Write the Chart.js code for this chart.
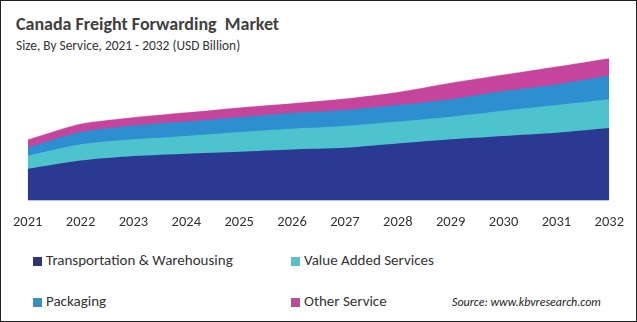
<!DOCTYPE html>
<html>
  <head>
    <title>Canada Freight Forwarding Market</title>
    <script src="https://cdn.jsdelivr.net/npm/chart.js"></script>
    <style>
      html, body {
        margin: 0;
        padding: 0;
        background: #fff;
        font-family: Calibri, Carlito, "Open Sans", Arial, sans-serif;
      }
      .frame {
        position: relative;
        width: 635px;
        height: 320px;
        border: 1px solid #222;
        overflow: hidden;
      }
      h1 {
        position: absolute;
        left: 15px;
        top: 12px;
        margin: 0;
        font-size: 18px;
        font-weight: bold;
        color: #404040;
      }
      .sub {
        position: absolute;
        left: 15px;
        top: 36px;
        font-size: 13.4px;
        color: #333;
      }
      .chart-box {
        position: absolute;
        left: -1px;
        top: 49px;
        width: 637px;
        height: 194px;
      }
      .legend-item {
        position: absolute;
        font-size: 15px;
        color: #333;
        white-space: nowrap;
      }
      .legend-item span {
        display: inline-block;
        width: 9px;
        height: 9px;
        margin-right: 4px;
        vertical-align: -1px;
      }
      .source {
        position: absolute;
        left: 451px;
        top: 294px;
        font-size: 12px;
        font-style: italic;
        color: #222;
      }
    </style>
  </head>
  <body>
    <div class="frame">
      <h1>Canada Freight Forwarding&nbsp; Market</h1>
      <div class="sub">Size, By Service, 2021 - 2032 (USD Billion)</div>
      <div class="chart-box"><canvas id="chart"></canvas></div>
      <div id="legend"></div>
      <div class="source">Source: www.kbvresearch.com</div>
    </div>
    <script>
      // market size by service, USD billion
      const years = ["2021", "2022", "2023", "2024", "2025", "2026", "2027", "2028", "2029", "2030", "2031", "2032"];
      const transportation = [3.23, 4.07, 4.53, 4.77, 4.97, 5.20, 5.37, 5.80, 6.23, 6.57, 6.90, 7.37];
      const valueAdded     = [1.34, 1.66, 1.70, 1.80, 2.00, 2.10, 2.20, 2.23, 2.30, 2.56, 2.80, 2.93];
      const packaging      = [0.83, 1.24, 1.40, 1.46, 1.50, 1.60, 1.63, 1.67, 1.77, 2.00, 2.10, 2.40];
      const otherService   = [0.80, 0.83, 0.84, 0.94, 1.00, 1.00, 1.17, 1.33, 1.67, 1.67, 1.83, 1.77];

      const seriesNames = ["Transportation & Warehousing", "Value Added Services", "Packaging", "Other Service"];
      const seriesColors = ["#2C3993", "#4DC3CE", "#2D8FD0", "#C5459C"];
      const legendColors = ["#2D3477", "#5BC0C8", "#3592B9", "#BA4D97"];

      const series = [transportation, valueAdded, packaging, otherService];

      // legend laid out in two rows of two
      const legendPos = [[32, 250], [290, 250], [32, 291], [290, 291]];
      const legend = document.getElementById("legend");
      seriesNames.forEach(function (name, i) {
        const item = document.createElement("div");
        item.className = "legend-item";
        item.style.left = legendPos[i][0] + "px";
        item.style.top = legendPos[i][1] + "px";
        item.innerHTML = '<span style="background:' + legendColors[i] + '"></span>' + name.replace("&", "&amp;");
        legend.appendChild(item);
      });

      const ctx = document.getElementById("chart").getContext("2d");
      new Chart(ctx, {
        type: "line",
        data: {
          labels: years,
          datasets: series.map(function (values, i) {
            return {
              label: seriesNames[i],
              data: values,
              backgroundColor: seriesColors[i],
              borderColor: i === 3 ? "rgba(255,255,255,0.5)" : seriesColors[i],
              borderWidth: i === 3 ? 0.6 : 0,
              fill: true,
              tension: 0.25,
              pointRadius: 0
            };
          })
        },
        options: {
          responsive: true,
          maintainAspectRatio: false,
          animation: false,
          layout: {
            padding: { left: 25, right: 26, top: 0, bottom: 0 }
          },
          plugins: {
            legend: { display: false },
            tooltip: { enabled: false }
          },
          scales: {
            x: {
              offset: false,
              grid: { display: false, drawTicks: false },
              border: { display: false },
              ticks: {
                padding: 13,
                color: "#333",
                maxRotation: 0,
                autoSkip: false,
                font: { family: "Calibri, Carlito, 'Open Sans', Arial, sans-serif", size: 14.5 }
              }
            },
            y: {
              display: false,
              stacked: true,
              min: 0,
              max: 15.3
            }
          }
        }
      });
    </script>
  </body>
</html>
